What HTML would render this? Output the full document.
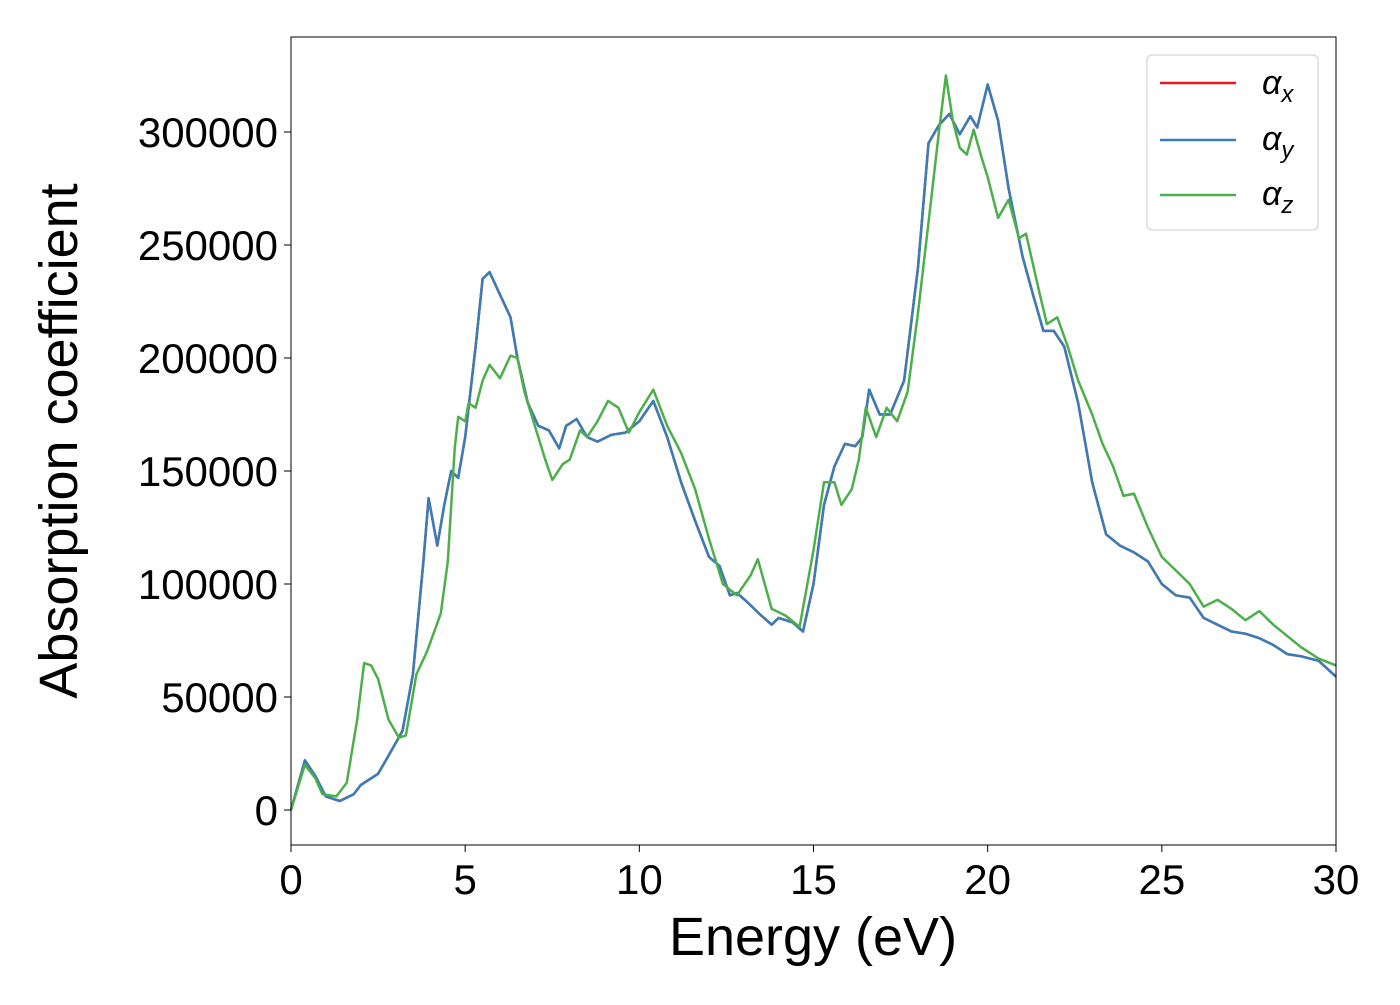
<!DOCTYPE html>
<html><head><meta charset="utf-8"><style>
body{margin:0;background:#fff;}
svg{font-family:"Liberation Sans","DejaVu Sans",sans-serif;}
</style></head><body>
<svg id="chart" width="1400" height="1000" xmlns="http://www.w3.org/2000/svg">
<rect width="1400" height="1000" fill="#fff"/>
<g id="plot"></g>
<rect x="291" y="37" width="1045" height="808" fill="none" stroke="#000" stroke-width="1"/>
<g id="xticks"></g><g id="yticks"></g>
<text x="813" y="955" font-size="54" text-anchor="middle">Energy (eV)</text>
<text transform="translate(77,441) rotate(-90)" font-size="54" text-anchor="middle">Absorption coefficient</text>
<g>
<rect x="1147" y="55" width="171" height="175" rx="5" fill="#fff" stroke="#ccc"/>
<line x1="1160" y1="83" x2="1236" y2="83" stroke="#e41a1c" stroke-width="2.5"/>
<text x="1262" y="94" font-size="34" font-style="italic">α<tspan font-size="24" dy="8">x</tspan></text>
<line x1="1160" y1="140" x2="1236" y2="140" stroke="#377eb8" stroke-width="2.5"/>
<text x="1262" y="150" font-size="34" font-style="italic">α<tspan font-size="24" dy="8">y</tspan></text>
<line x1="1160" y1="195" x2="1236" y2="195" stroke="#4daf4a" stroke-width="2.5"/>
<text x="1262" y="205" font-size="34" font-style="italic">α<tspan font-size="24" dy="8">z</tspan></text>
</g>
</svg>
<script>
const xTicks=[0,5,10,15,20,25,30];
const yTicks=[0,50000,100000,150000,200000,250000,300000];
const energyXY=[0,0.4,0.7,1.0,1.4,1.8,2.0,2.5,2.8,3.2,3.5,3.8,3.95,4.2,4.4,4.6,4.8,5.0,5.3,5.5,5.7,6.0,6.3,6.5,6.8,7.1,7.4,7.7,7.9,8.2,8.5,8.8,9.2,9.6,10.0,10.4,10.8,11.2,11.6,12.0,12.3,12.6,12.8,13.1,13.5,13.8,14.0,14.4,14.7,15.0,15.3,15.6,15.9,16.2,16.4,16.6,16.9,17.2,17.6,18.0,18.3,18.6,18.9,19.2,19.5,19.7,20.0,20.3,20.6,21.0,21.3,21.6,21.9,22.2,22.6,23.0,23.4,23.8,24.2,24.6,25.0,25.4,25.8,26.2,26.6,27.0,27.4,27.8,28.2,28.6,29.0,29.5,30];
const alphaXY=[0,22000,15000,6000,4000,7000,11000,16000,24000,35000,60000,110000,138000,117000,135000,150000,147000,165000,205000,235000,238000,228000,218000,200000,180000,170000,168000,160000,170000,173000,165000,163000,166000,167000,172000,181000,165000,145000,128000,112000,108000,95000,96000,92000,86000,82000,85000,83000,79000,100000,135000,152000,162000,161000,165000,186000,175000,175000,190000,240000,295000,303000,308000,299000,307000,302000,321000,305000,275000,245000,228000,212000,212000,205000,180000,145000,122000,117000,114000,110000,100000,95000,94000,85000,82000,79000,78000,76000,73000,69000,68000,66000,59000];
const energyZ=[0,0.4,0.7,0.9,1.3,1.6,1.9,2.1,2.3,2.5,2.8,3.1,3.3,3.6,3.9,4.3,4.5,4.7,4.8,5.0,5.1,5.3,5.5,5.7,6.0,6.3,6.5,6.7,7.0,7.3,7.5,7.8,8.0,8.3,8.5,8.8,9.1,9.4,9.7,10.0,10.4,10.8,11.2,11.6,12.0,12.4,12.8,13.2,13.4,13.6,13.8,14.2,14.6,15.0,15.3,15.6,15.8,16.1,16.3,16.5,16.8,17.1,17.4,17.7,18.0,18.3,18.6,18.8,19.0,19.2,19.4,19.6,19.8,20.0,20.3,20.6,20.9,21.1,21.5,21.7,22.0,22.3,22.6,23.0,23.3,23.6,23.9,24.2,24.6,25.0,25.4,25.8,26.2,26.6,27.0,27.4,27.8,28.2,28.6,29.0,29.5,30];
const alphaZ=[0,20000,14000,7000,6000,12000,40000,65000,64000,58000,40000,32000,33000,60000,70000,87000,110000,160000,174000,172000,180000,178000,190000,197000,191000,201000,200000,185000,170000,155000,146000,153000,155000,168000,165000,172000,181000,178000,167000,176000,186000,170000,158000,142000,120000,100000,95000,104000,111000,100000,89000,86000,81000,115000,145000,145000,135000,142000,155000,178000,165000,178000,172000,185000,220000,260000,300000,325000,305000,293000,290000,301000,290000,280000,262000,270000,253000,255000,228000,215000,218000,205000,190000,175000,162000,152000,139000,140000,125000,112000,106000,100000,90000,93000,89000,84000,88000,82000,77000,72000,67000,64000];
const X=v=>291+v*(1045/30);
const Y=v=>810-v*(113/50000);
const NS='http://www.w3.org/2000/svg';
const plot=document.getElementById('plot');
function line(xs,ys,color,name){
  const p=document.createElementNS(NS,'path');
  p.setAttribute('d',xs.map((x,i)=>(i?'L':'M')+X(x).toFixed(1)+','+Y(ys[i]).toFixed(1)).join(''));
  p.setAttribute('fill','none');p.setAttribute('stroke',color);p.setAttribute('stroke-width','2.5');p.setAttribute('stroke-linejoin','round');
  
  
  plot.appendChild(p);
}
line(energyXY,alphaXY,'#e41a1c','series-alpha-x');
line(energyXY,alphaXY,'#377eb8','series-alpha-y');
line(energyZ,alphaZ,'#4daf4a','series-alpha-z');
const xg=document.getElementById('xticks');
xTicks.forEach(t=>{
  const l=document.createElementNS(NS,'line');
  l.setAttribute('x1',X(t));l.setAttribute('x2',X(t));l.setAttribute('y1',845);l.setAttribute('y2',852);l.setAttribute('stroke','#000');
  
  
  xg.appendChild(l);
  const s=document.createElementNS(NS,'text');
  s.setAttribute('x',X(t));s.setAttribute('y',894);s.setAttribute('font-size','42');s.setAttribute('text-anchor','middle');
  s.textContent=t;
  
  
  xg.appendChild(s);
});
const yg=document.getElementById('yticks');
yTicks.forEach(t=>{
  const l=document.createElementNS(NS,'line');
  l.setAttribute('x1',284);l.setAttribute('x2',291);l.setAttribute('y1',Y(t));l.setAttribute('y2',Y(t));l.setAttribute('stroke','#000');
  
  
  yg.appendChild(l);
  const s=document.createElementNS(NS,'text');
  s.setAttribute('x',278);s.setAttribute('y',Y(t)+15);s.setAttribute('font-size','42');s.setAttribute('text-anchor','end');
  s.textContent=t;
  
  
  yg.appendChild(s);
});
</script>
</body></html>
